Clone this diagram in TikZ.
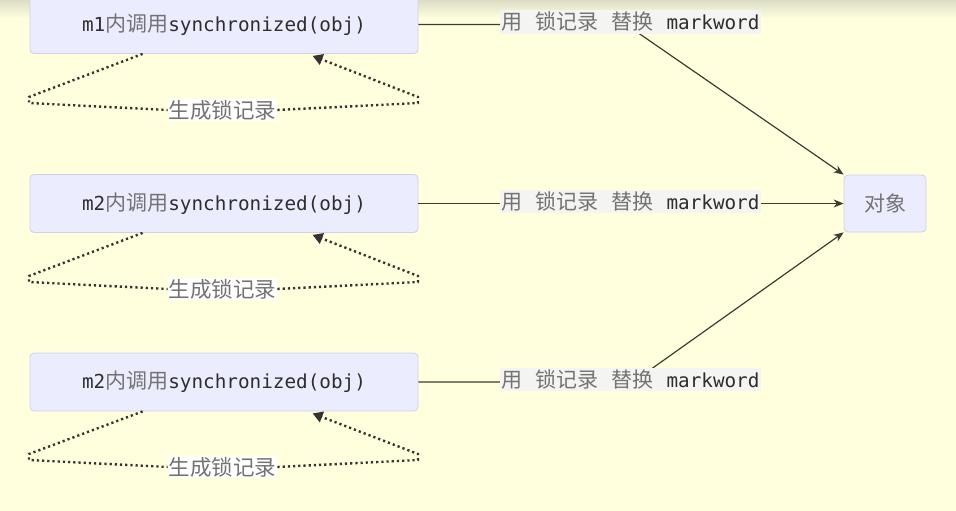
\documentclass[tikz,border=0pt]{standalone}
\usepackage{fontspec}
\setmonofont{DejaVu Sans Mono}
\newfontfamily\cjkfont{Noto Sans CJK SC}
\usetikzlibrary{arrows.meta}
\definecolor{bgyellow}{HTML}{FFFFDE}
\definecolor{topshade}{HTML}{DCDCC6}
\definecolor{boxfill}{HTML}{ECECFF}
\definecolor{boxline}{HTML}{CFCFF0}
\definecolor{latdark}{HTML}{2E2E2E}
\definecolor{hangray}{HTML}{737373}
\definecolor{edgecol}{HTML}{3C3C34}
\definecolor{lblfill}{HTML}{F4F4F2}
\newcommand\monotext[1]{{\fontsize{19.3}{23}\ttfamily\color{latdark}#1}}
\newcommand\hantext[1]{{\fontsize{21}{25}\cjkfont\color{hangray}#1}}
\newcommand\looptext{{\fontsize{21.5}{25}\cjkfont\color{hangray}生成锁记录}}
\newcommand\edgetext{\hantext{用}\hspace{13pt}\hantext{锁记录}\hspace{13pt}\hantext{替换}\hspace{13pt}\monotext{markword}}
\begin{document}
\begin{tikzpicture}[x=1pt,y=-1pt,
  box/.style={draw=boxline, fill=boxfill, rounded corners=4pt, line width=0.8pt,
    minimum width=388pt, minimum height=58pt, inner sep=0pt},
  objbox/.style={draw=boxline, fill=boxfill, rounded corners=4pt, line width=0.8pt,
    minimum width=82pt, minimum height=57pt, inner sep=0pt},
  edgelbl/.style={fill=lblfill, inner sep=2pt},
  looplbl/.style={fill=white, inner sep=1pt},
  link/.style={draw=edgecol, line width=1.2pt},
  linkarrow/.style={link, -{Stealth[length=10pt,width=8pt]}},
  loopline/.style={draw=black!80, line width=2.4pt, dash pattern=on 2.2pt off 3pt},
  looparrow/.style={loopline, -{Triangle[length=10pt,width=11pt]}}]
  \useasboundingbox (0,0) rectangle (956,511);
  \fill[bgyellow] (0,0) rectangle (956,511);
  \shade[top color=topshade, bottom color=bgyellow] (0,0) rectangle (956,18);

  % nodes
  \node[box] (m1) at (224,24.5) {\monotext{m1}\hantext{内调用}\monotext{synchronized(obj)}};
  \node[box] (m2) at (224,203.5) {\monotext{m2}\hantext{内调用}\monotext{synchronized(obj)}};
  \node[box] (m3) at (224,382) {\monotext{m2}\hantext{内调用}\monotext{synchronized(obj)}};
  \node[objbox] (obj) at (885,203.5) {\hantext{对象}};

  % bends of the outer connectors
  \coordinate (k1) at (626,24.5);
  \coordinate (k3) at (633,382);

  % connectors to the object
  \draw[linkarrow] (m1.east) -- (k1) -- (obj.north west);
  \draw[linkarrow] (m2.east) -- (obj.west);
  \draw[linkarrow] (m3.east) -- (k3) -- (obj.south west);

  \node[edgelbl] (e1) at (630.5,22) {\edgetext};
  \node[edgelbl] (e2) at (630.5,201.5) {\edgetext};
  \node[edgelbl] (e3) at (630.5,379.5) {\edgetext};

  % self loops
  \node[looplbl] (l1) at (222.5,110) {\looptext};
  \node[looplbl] (l2) at (222.5,289) {\looptext};
  \node[looplbl] (l3) at (222.5,467) {\looptext};

  \draw[loopline] ([xshift=113pt]m1.south west) -- (29,97) -- (29,103) -- (l1.west);
  \draw[looparrow] (l1.east) -- (418,103) -- (418,97) -- ([xshift=283pt,yshift=-2pt]m1.south west);

  \draw[loopline] ([xshift=113pt]m2.south west) -- (29,276) -- (29,282) -- (l2.west);
  \draw[looparrow] (l2.east) -- (418,282) -- (418,276) -- ([xshift=283pt,yshift=-2pt]m2.south west);

  \draw[loopline] ([xshift=113pt]m3.south west) -- (29,454) -- (29,460) -- (l3.west);
  \draw[looparrow] (l3.east) -- (418,460) -- (418,454) -- ([xshift=283pt,yshift=-2pt]m3.south west);
\end{tikzpicture}
\end{document}
